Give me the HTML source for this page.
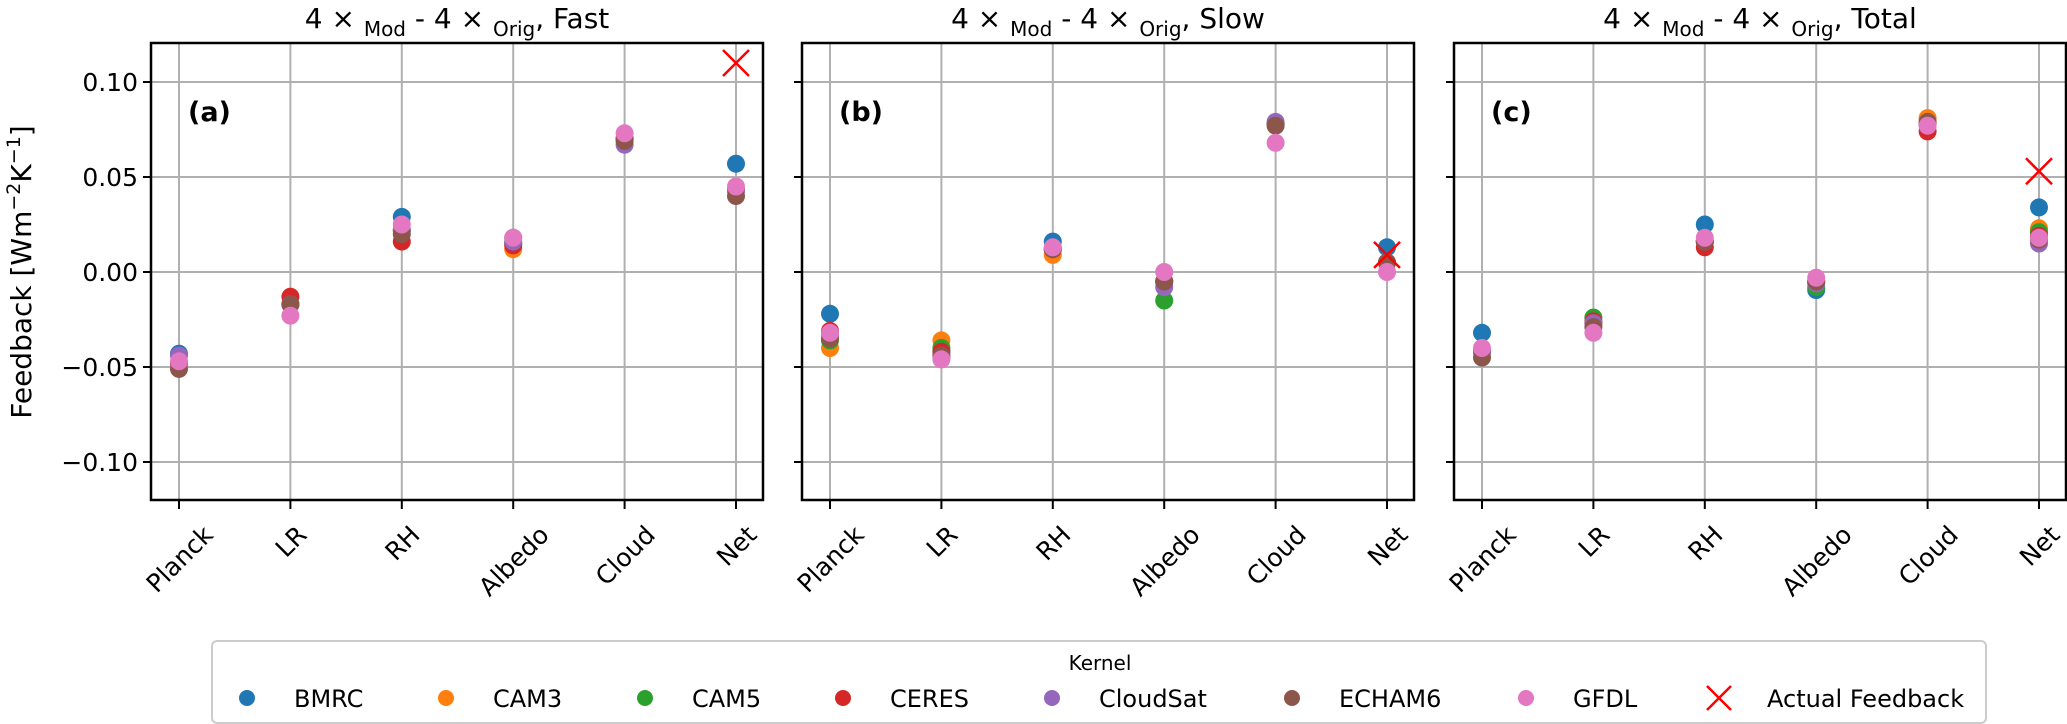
<!DOCTYPE html>
<html><head><meta charset="utf-8"><style>
body{margin:0;background:#fff;}
svg{display:block;font-family:"DejaVu Sans","Liberation Sans",sans-serif;}
</style></head><body>
<svg id="chart" width="2067" height="724" viewBox="0 0 2067 724" xmlns="http://www.w3.org/2000/svg"></svg>
<script>
const categories = ["Planck","LR","RH","Albedo","Cloud","Net"];
const kernels = ["BMRC","CAM3","CAM5","CERES","CloudSat","ECHAM6","GFDL"];
const colors = ["#1f77b4","#ff7f0e","#2ca02c","#d62728","#9467bd","#8c564b","#e377c2"];
const panelTitles = ["Fast","Slow","Total"];
const panelLetters = ["(a)","(b)","(c)"];
const yTicks = [0.10,0.05,0.00,-0.05,-0.10];
const yTickLabels = ["0.10","0.05","0.00","\u22120.05","\u22120.10"];
// values per panel: [kernel][category]
const fastVals = [
 [-0.043,-0.017,0.029,0.015,0.070,0.057],
 [-0.048,-0.017,0.022,0.012,0.070,0.043],
 [-0.048,-0.017,0.022,0.015,0.070,0.043],
 [-0.048,-0.013,0.016,0.014,0.070,0.043],
 [-0.044,-0.017,0.022,0.016,0.067,0.043],
 [-0.051,-0.017,0.020,0.018,0.069,0.040],
 [-0.047,-0.023,0.025,0.018,0.073,0.045]];
const slowVals = [
 [-0.022,-0.042,0.016,-0.005,0.078,0.013],
 [-0.040,-0.036,0.009,-0.005,0.078,0.005],
 [-0.036,-0.040,0.012,-0.015,0.078,0.005],
 [-0.031,-0.042,0.012,-0.005,0.078,0.005],
 [-0.033,-0.045,0.012,-0.008,0.079,0.005],
 [-0.035,-0.044,0.012,-0.005,0.077,0.005],
 [-0.032,-0.046,0.013,0.000,0.068,0.000]];
const totalVals = [
 [-0.032,-0.027,0.025,-0.0095,0.078,0.034],
 [-0.042,-0.027,0.016,-0.005,0.081,0.023],
 [-0.042,-0.024,0.016,-0.008,0.078,0.021],
 [-0.042,-0.026,0.013,-0.005,0.074,0.019],
 [-0.042,-0.027,0.016,-0.006,0.078,0.015],
 [-0.045,-0.029,0.016,-0.005,0.079,0.017],
 [-0.040,-0.032,0.018,-0.003,0.077,0.018]];
const panelVals = [fastVals, slowVals, totalVals];
const actualNet = [0.110, 0.009, 0.053];

const NS="http://www.w3.org/2000/svg";
const svg=document.getElementById('chart');
function mk(tag,attrs,parent){const e=document.createElementNS(NS,tag);for(const k in attrs)e.setAttribute(k,attrs[k]);(parent||svg).appendChild(e);return e;}
const panelLeft=[151,802,1454], PW=612, TOP=43, BOT=500;
function yScale(v){return 272 - v*1900;}
function xScale(p,i){return panelLeft[p]+28+i*111.4;}

for(let p=0;p<3;p++){
  const g=mk('g',{});
  
  
  const L=panelLeft[p], R=L+PW;
  yTicks.forEach((t,k)=>{
    const y=yScale(t);
    const gl=mk('line',{x1:L,x2:R,y1:y,y2:y,stroke:'#b0b0b0','stroke-width':2},g);
    
    
    mk('line',{x1:L-8,x2:L,y1:y,y2:y,stroke:'#000','stroke-width':2},g);
    if(p===0){
      const tl=mk('text',{x:L-13,y:y+9,'text-anchor':'end','font-size':25},g);
      tl.textContent=yTickLabels[k];
      
      
    }
  });
  categories.forEach((c,i)=>{
    const x=xScale(p,i);
    const gl=mk('line',{x1:x,x2:x,y1:TOP,y2:BOT,stroke:'#b0b0b0','stroke-width':2},g);
    
    
    mk('line',{x1:x,x2:x,y1:BOT,y2:BOT+9,stroke:'#000','stroke-width':2},g);
    const tl=mk('text',{x:0,y:0,'text-anchor':'middle','font-size':25},g);
    tl.textContent=c;
    
    
    const w=tl.getComputedTextLength(), h=19;
    const bh=(w+h)*0.7071;
    const cy=BOT+23+bh/2;
    tl.setAttribute('transform',`translate(${x},${cy}) rotate(-45) translate(0,${h*0.5})`);
  });
  const vals=panelVals[p];
  kernels.forEach((k,ki)=>{
    categories.forEach((c,i)=>{
      const pt=mk('circle',{cx:xScale(p,i),cy:yScale(vals[ki][i]),r:9,fill:colors[ki]},g);
      
      
    });
  });
  const ax=xScale(p,5), ay=yScale(actualNet[p]), s=13;
  const xm=mk('path',{d:`M${ax-s},${ay-s}L${ax+s},${ay+s}M${ax-s},${ay+s}L${ax+s},${ay-s}`,stroke:'#ff0000','stroke-width':2.5,fill:'none'},g);
  
  
  const fr=mk('rect',{x:L,y:TOP,width:PW,height:BOT-TOP,fill:'none',stroke:'#000','stroke-width':2.5},g);
  
  
  const lt=mk('text',{x:L+37,y:121,'font-size':27,'font-weight':'bold'},g);
  lt.textContent=panelLetters[p];
  
  
  const tt=mk('text',{x:L+PW/2,y:28,'text-anchor':'middle','font-size':28},g);
  
  
  tt.innerHTML=`4 × <tspan font-size="20" dy="8">Mod</tspan><tspan dy="-8"> - 4 × </tspan><tspan font-size="20" dy="8">Orig</tspan><tspan dy="-8">, ${panelTitles[p]}</tspan>`;
}
const yl=mk('text',{x:0,y:0,'text-anchor':'middle','font-size':28,transform:'translate(31,272) rotate(-90)'});


yl.innerHTML='Feedback [Wm<tspan font-size="19" dy="-11">\u22122</tspan><tspan dy="11">K</tspan><tspan font-size="19" dy="-11">\u22121</tspan><tspan dy="11">]</tspan>';
const lg=mk('g',{});


mk('rect',{x:212,y:641,width:1774,height:82,rx:5,fill:'#fff',stroke:'#cccccc','stroke-width':2},lg);
const ltt=mk('text',{x:1100,y:670,'text-anchor':'middle','font-size':20},lg);
ltt.textContent='Kernel';


const legX=[247,446,645,843,1052,1292,1526];
kernels.forEach((k,i)=>{
  const e=mk('g',{},lg);
  
  
  mk('circle',{cx:legX[i],cy:698,r:8,fill:colors[i]},e);
  const t=mk('text',{x:legX[i]+47,y:707,'font-size':24},e);
  t.textContent=k;
});
const ae=mk('g',{},lg);


mk('path',{d:'M1707,686L1731,710M1707,710L1731,686',stroke:'#ff0000','stroke-width':2.5},ae);
const at=mk('text',{x:1767,y:707,'font-size':24},ae);
at.textContent='Actual Feedback';
</script>
</body></html>
